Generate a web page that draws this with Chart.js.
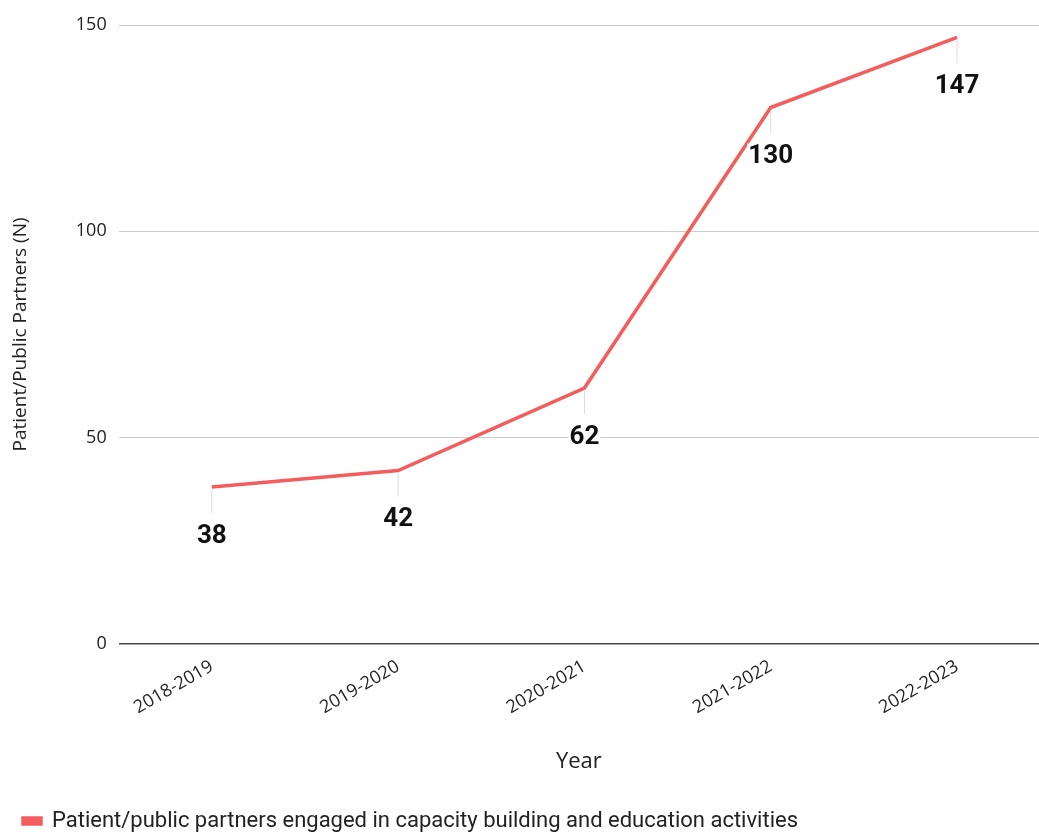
<!DOCTYPE html>
<html>
<head>
<meta charset="utf-8">
<script src="https://cdn.jsdelivr.net/npm/chart.js@4.4.1/dist/chart.umd.min.js"></script>
<style>
  html, body { margin: 0; padding: 0; background: #fff; }
  #wrap { width: 1039px; height: 834px; }
</style>
</head>
<body>
<div id="wrap"><canvas id="chart"></canvas></div>
<script>
// Patient/public partners engaged per year
const years = ['2018-2019', '2019-2020', '2020-2021', '2021-2022', '2022-2023'];
const partners = [38, 42, 62, 130, 147];
const yTicks = [0, 50, 100, 150];

const LINE_RED = '#f45d5d';
const AXIS_FONT = "'Open Sans', sans-serif";
const LABEL_FONT = "Roboto, sans-serif";

// value labels under each point, with a thin leader line and a white backing box
const pointLabels = {
    id: 'pointLabels',
    afterDatasetsDraw(chart) {
        const { ctx } = chart;
        const meta = chart.getDatasetMeta(0);
        ctx.save();
        ctx.font = `bold 26px ${LABEL_FONT}`;
        ctx.textAlign = 'center';
        ctx.textBaseline = 'middle';
        meta.data.forEach((pt, i) => {
            const txt = String(partners[i]);
            ctx.strokeStyle = '#dcdcdc';
            ctx.lineWidth = 1;
            ctx.beginPath();
            ctx.moveTo(pt.x, pt.y + 3);
            ctx.lineTo(pt.x, pt.y + 26);
            ctx.stroke();
            const w = ctx.measureText(txt).width;
            const ty = pt.y + 48;
            ctx.fillStyle = '#fff';
            ctx.fillRect(pt.x - w / 2 - 1, ty - 12, w + 2, 24);
            ctx.fillStyle = '#111';
            ctx.fillText(txt, pt.x, ty + 1);
        });
        ctx.restore();
    }
};

new Chart(document.getElementById('chart'), {
    type: 'line',
    data: {
        datasets: [{
            label: 'Patient/public partners engaged in capacity building and education activities',
            data: partners.map((v, i) => ({ x: i, y: v })),
            borderColor: LINE_RED,
            backgroundColor: LINE_RED,
            borderWidth: 3.5,
            pointRadius: 0,
            tension: 0,
        }]
    },
    options: {
        responsive: true,
        maintainAspectRatio: false,
        animation: false,
        layout: { padding: { top: 25, right: 0, left: 9, bottom: -8 } },
        plugins: {
            tooltip: { enabled: false },
            legend: {
                position: 'bottom',
                align: 'start',
                labels: {
                    font: { family: LABEL_FONT, size: 22 },
                    color: '#222',
                    boxWidth: 18,
                    boxHeight: 6,
                    padding: 14,
                }
            }
        },
        scales: {
            x: {
                type: 'linear',
                min: -0.5,
                max: 4.44,
                afterBuildTicks: s => { s.ticks = years.map((_, i) => ({ value: i })); },
                ticks: {
                    callback: v => years[v] ?? '',
                    autoSkip: false,
                    minRotation: 30,
                    maxRotation: 30,
                    padding: 4,
                    color: '#222',
                    font: { family: AXIS_FONT, size: 18 },
                },
                grid: { display: false },
                border: { display: false },
                title: {
                    display: true,
                    text: 'Year',
                    color: '#222',
                    font: { family: AXIS_FONT, size: 22 },
                    padding: { top: 26, bottom: 21 },
                }
            },
            y: {
                min: 0,
                max: 150,
                afterBuildTicks: s => { s.ticks = yTicks.map(v => ({ value: v })); },
                ticks: {
                    padding: 12,
                    color: '#222',
                    font: { family: AXIS_FONT, size: 18 },
                },
                grid: {
                    drawTicks: false,
                    color: c => (c.tick && c.tick.value === 0 ? '#444' : '#cccccc'),
                    lineWidth: c => (c.tick && c.tick.value === 0 ? 1.5 : 1),
                },
                border: { display: false },
                title: {
                    display: true,
                    text: 'Patient/Public Partners (N)',
                    color: '#222',
                    font: { family: AXIS_FONT, size: 19 },
                    padding: { top: 0, bottom: 32 },
                }
            }
        }
    },
    plugins: [pointLabels]
});
</script>
</body>
</html>
